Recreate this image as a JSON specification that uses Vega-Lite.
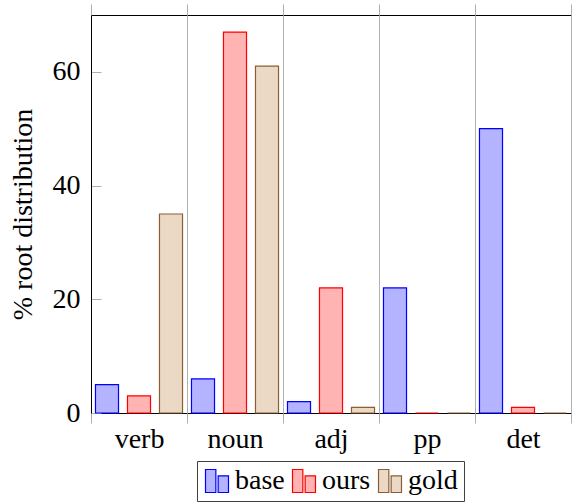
{
  "$schema": "https://vega.github.io/schema/vega-lite/v6.json",
  "width": 480,
  "height": 398,
  "autosize": {"type": "none"},
  "padding": {"left": 91, "top": 15, "right": 3, "bottom": 91},
  "config": {
    "font": "Liberation Serif",
    "view": {"stroke": "#000000", "strokeWidth": 1}
  },
  "data": {
    "values": [
      {"cat": "verb", "series": "base", "value": 5},
      {"cat": "verb", "series": "ours", "value": 3},
      {"cat": "verb", "series": "gold", "value": 35},
      {"cat": "noun", "series": "base", "value": 6},
      {"cat": "noun", "series": "ours", "value": 67},
      {"cat": "noun", "series": "gold", "value": 61},
      {"cat": "adj", "series": "base", "value": 2},
      {"cat": "adj", "series": "ours", "value": 22},
      {"cat": "adj", "series": "gold", "value": 1},
      {"cat": "pp", "series": "base", "value": 22},
      {"cat": "pp", "series": "ours", "value": 0},
      {"cat": "pp", "series": "gold", "value": 0},
      {"cat": "det", "series": "base", "value": 50},
      {"cat": "det", "series": "ours", "value": 1},
      {"cat": "det", "series": "gold", "value": 0}
    ]
  },
  "layer": [
    {
      "mark": {"type": "bar", "strokeWidth": 1.2},
      "encoding": {
        "x": {
          "field": "cat",
          "type": "nominal",
          "sort": ["verb", "noun", "adj", "pp", "det"],
          "scale": {"paddingInner": 0, "paddingOuter": 0},
          "axis": {
            "title": null,
            "orient": "bottom",
            "labelAngle": 0,
            "labelFontSize": 28,
            "labelColor": "#000000",
            "labelPadding": 2,
            "tickBand": "extent",
            "domain": false,
            "ticks": true,
            "tickSize": 10,
            "tickColor": "#b0b0b0",
            "grid": true,
            "gridColor": "#b0b0b0",
            "gridOpacity": 1
          }
        },
        "xOffset": {
          "field": "series",
          "type": "nominal",
          "sort": ["base", "ours", "gold"],
          "scale": {"paddingInner": 0.28, "paddingOuter": 0.14}
        },
        "y": {
          "field": "value",
          "type": "quantitative",
          "scale": {"domain": [0, 70], "nice": false},
          "axis": {
            "title": "% root distribution",
            "titleFontSize": 28,
            "titleFontWeight": "normal",
            "titleColor": "#000000",
            "titlePadding": 15,
            "values": [0, 20, 40, 60],
            "labelFontSize": 28,
            "labelColor": "#000000",
            "labelPadding": 21,
            "tickSize": -10,
            "tickColor": "#b0b0b0",
            "domainColor": "#000000",
            "grid": false
          }
        },
        "fill": {
          "field": "series",
          "type": "nominal",
          "sort": ["base", "ours", "gold"],
          "scale": {"domain": ["base", "ours", "gold"], "range": ["#b3b3ff", "#ffb3b3", "#ebd9c6"]},
          "legend": {
            "title": null,
            "orient": "none",
            "legendX": 106,
            "legendY": 446,
            "direction": "horizontal",
            "labelFontSize": 28,
            "labelColor": "#000000",
            "labelOffset": 4,
            "columnPadding": 5,
            "symbolType": "M-1,-1H-0.1V1H-1Z M0.1,-0.45H1V1H0.1Z",
            "symbolSize": 529,
            "symbolStrokeWidth": 1.2,
            "padding": 6,
            "strokeColor": "#404040",
            "fillColor": "#ffffff"
          }
        },
        "stroke": {
          "field": "series",
          "type": "nominal",
          "sort": ["base", "ours", "gold"],
          "scale": {"domain": ["base", "ours", "gold"], "range": ["#0000ff", "#ff0000", "#8b5e34"]}
        }
      }
    },
    {
      "mark": {"type": "bar", "opacity": 0},
      "encoding": {
        "x": {
          "field": "cat",
          "type": "nominal",
          "sort": ["verb", "noun", "adj", "pp", "det"],
          "axis": {
            "title": null,
            "orient": "top",
            "labels": false,
            "tickBand": "extent",
            "domain": false,
            "ticks": true,
            "tickSize": 11,
            "tickColor": "#b0b0b0",
            "grid": false
          }
        },
        "y": {"field": "value", "type": "quantitative"}
      }
    }
  ]
}
